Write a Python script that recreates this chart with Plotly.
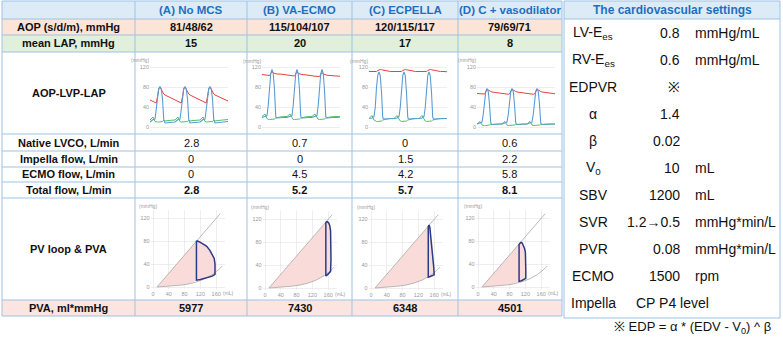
import plotly.graph_objects as go

W, H = 783, 337

# ---------------- data ----------------
col_titles = ["(A) No MCS", "(B) VA-ECMO", "(C) ECPELLA", "(D) C + vasodilator"]
row_labels = ["AOP (s/d/m), mmHg", "mean LAP, mmHg", "AOP-LVP-LAP", "Native LVCO, L/min",
              "Impella flow, L/min", "ECMO flow, L/min", "Total flow, L/min", "PV loop & PVA",
              "PVA, ml*mmHg"]
aop_values = ["81/48/62", "115/104/107", "120/115/117", "79/69/71"]
lap_values = ["15", "20", "17", "8"]
native_lvco = ["2.8", "0.7", "0", "0.6"]
impella_flow = ["0", "0", "1.5", "2.2"]
ecmo_flow = ["0", "4.5", "4.2", "5.8"]
total_flow = ["2.8", "5.2", "5.7", "8.1"]
pva_values = ["5977", "7430", "6348", "4501"]

settings_title = "The cardiovascular settings"
settings_labels = ["LV-E<sub>es</sub>", "RV-E<sub>es</sub>", "EDPVR", "α", "β", "V<sub>0</sub>",
                   "SBV", "SVR", "PVR", "ECMO", "Impella"]
settings_values = ["0.8", "0.6", "※", "1.4", "0.02", "10", "1200", "1.2→0.5", "0.08", "1500", ""]
settings_units = ["mmHg/mL", "mmHg/mL", "", "", "", "mL", "mL", "mmHg*min/L", "mmHg*min/L", "rpm", ""]
impella_setting = "CP P4 level"
footnote = "※ EDP = α * (EDV - V<sub>0</sub>) ^ β"

# pressure waveforms (time in beats, pressure mmHg)
time_beats = [0, 0.12, 0.2, 0.25, 0.3, 0.35, 0.4, 0.45, 0.5, 0.55, 0.6, 0.72, 0.86,
              1, 1.12, 1.2, 1.25, 1.3, 1.35, 1.4, 1.45, 1.5, 1.55, 1.6, 1.72, 1.86,
              2, 2.12, 2.2, 2.25, 2.3, 2.35, 2.4, 2.45, 2.5, 2.55, 2.6, 2.72, 2.86,
              3, 3.12]
lvp_A = [10, 15, 16, 35, 62, 77, 81, 76, 56, 15, 8, 9, 10,
         10, 15, 16, 35, 62, 77, 81, 76, 56, 15, 8, 9, 10,
         10, 15, 16, 35, 62, 77, 81, 76, 56, 15, 8, 9, 10,
         10, 11]
lap_A = [14, 20, 11, 10, 10, 10, 10, 10, 11, 14, 12, 13, 14,
         14, 20, 11, 10, 10, 10, 10, 10, 11, 14, 12, 13, 14,
         14, 20, 11, 10, 10, 10, 10, 10, 11, 14, 12, 13, 14,
         14, 15]
aop_A = [54, 51, 49, 48, 61, 76, 80, 75, 68, 66, 64, 61, 57,
         54, 51, 49, 48, 61, 76, 80, 75, 68, 66, 64, 61, 57,
         54, 51, 49, 48, 61, 76, 80, 75, 68, 66, 64, 61, 57,
         54, 52]
lvp_B = [20, 22, 24, 45, 85, 108, 116, 108, 75, 22, 19, 20, 20,
         20, 22, 24, 45, 85, 108, 116, 108, 75, 22, 19, 20, 20,
         20, 22, 24, 45, 85, 108, 116, 108, 75, 22, 19, 20, 20,
         20, 21]
lap_B = [22, 27, 18, 16, 16, 16, 16, 16, 17, 19, 20, 21, 22,
         22, 27, 18, 16, 16, 16, 16, 16, 17, 19, 20, 21, 22,
         22, 27, 18, 16, 16, 16, 16, 16, 17, 19, 20, 21, 22,
         22, 22]
aop_B = [106, 105, 104, 104, 104, 108, 112, 109, 108, 108, 107, 107, 106,
         104.5, 103.5, 103, 103, 103, 107, 111, 108, 107, 106.5, 106, 105.5, 105,
         103.5, 102.5, 102, 102, 102, 106, 110, 107, 106, 105, 104.5, 104, 103.5,
         103, 102.5]
lvp_C = [18, 19, 22, 40, 80, 104, 111, 104, 70, 20, 17, 17, 18,
         18, 19, 22, 40, 80, 104, 111, 104, 70, 20, 17, 17, 18,
         18, 19, 22, 40, 80, 104, 111, 104, 70, 20, 17, 17, 18,
         18, 18]
lap_C = [18, 24, 15, 13, 12, 12, 12, 12, 13, 15, 16, 17, 18,
         18, 24, 15, 13, 12, 12, 12, 12, 13, 15, 16, 17, 18,
         18, 24, 15, 13, 12, 12, 12, 12, 13, 15, 16, 17, 18,
         18, 18]
aop_C = [112, 111.5, 111, 111, 112, 114, 115.5, 116, 115.5, 115, 114, 113, 112,
         112, 111.5, 111, 111, 112, 114, 115.5, 116, 115.5, 115, 114, 113, 112,
         112, 111.5, 111, 111, 112, 114, 115.5, 116, 115.5, 115, 114, 113, 112,
         112, 111.5]
lvp_D = [6, 8, 10, 25, 52, 71, 77, 71, 45, 8, 5, 6, 6,
         6, 8, 10, 25, 52, 71, 77, 71, 45, 8, 5, 6, 6,
         6, 8, 10, 25, 52, 71, 77, 71, 45, 8, 5, 6, 6,
         6, 6]
lap_D = [6, 11, 4, 3, 3, 3, 3, 3, 4, 5, 5, 5.5, 6,
         6, 11, 4, 3, 3, 3, 3, 3, 4, 5, 5, 5.5, 6,
         6, 11, 4, 3, 3, 3, 3, 3, 4, 5, 5, 5.5, 6,
         6, 6]
aop_D = [67, 66, 65.5, 65.5, 66, 70, 75, 74, 72, 71, 70, 69, 68,
         67, 66, 65.5, 65.5, 66, 70, 75, 74, 72, 71, 70, 69, 68,
         67, 66, 65.5, 65.5, 66, 70, 75, 74, 72, 71, 70, 69, 68,
         67, 66.5]

# PV relations (volume mL, pressure mmHg)
espvr_v = [10, 170]
espvr_p = [0, 128]
edpvr_v = [10, 30, 50, 70, 90, 110, 130, 150, 165, 175]
edpvr_p = [0, 0.7, 1.7, 3.3, 5.4, 8.9, 14.0, 21.6, 29.7, 36.6]

# PV loops: start at end-systole, relaxation, filling, contraction, ejection
loop_v_A = [110, 110, 110, 120, 130, 140, 150, 157, 157, 157, 155, 150, 144, 136, 128, 120, 114, 110]
loop_p_A = [81, 45, 12, 13, 15, 17, 19, 22, 30, 40, 50, 57, 64, 71, 75, 78, 80, 81]
loop_v_B = [154, 154, 154, 158, 162, 166, 167, 167, 166, 164, 161, 157, 154]
loop_p_B = [115, 60, 21, 23, 26, 29, 50, 80, 100, 109, 114, 116, 115]
loop_v_C = [145, 145, 145, 150, 155, 160, 159, 157, 155, 153, 151, 149, 147, 145]
loop_p_C = [108, 60, 19, 20, 21, 23, 35, 50, 65, 80, 95, 106, 110, 108]
loop_v_D = [104, 104, 104, 110, 116, 121, 121, 121, 120, 118, 115, 112, 109, 106, 104]
loop_p_D = [75, 40, 10, 11, 13, 15, 30, 50, 60, 67, 73, 77, 78, 77, 75]

waves = [(aop_A, lvp_A, lap_A), (aop_B, lvp_B, lap_B), (aop_C, lvp_C, lap_C), (aop_D, lvp_D, lap_D)]
loops = [(loop_v_A, loop_p_A), (loop_v_B, loop_p_B), (loop_v_C, loop_p_C), (loop_v_D, loop_p_D)]

# ---------------- layout geometry (pixels) ----------------
def px(x):
    return x / W

def py(y):
    return 1 - y / H

FONT = "Arial, Liberation Sans, sans-serif"
BORDER = "#9DC3E6"
BLUE_TXT = "#1F6FC0"

col_x = [2, 135, 247, 352, 458, 562]
row_y = [1, 19, 35, 52, 134, 151, 167, 182, 198, 300, 316]
col_c = [(col_x[i] + col_x[i + 1]) / 2 for i in range(5)]
row_c = [(row_y[i] + row_y[i + 1]) / 2 for i in range(10)]

shapes = []
annotations = []

def rect(x0, y0, x1, y1, fill):
    shapes.append(dict(type="rect", xref="paper", yref="paper", x0=px(x0), x1=px(x1),
                       y0=py(y1), y1=py(y0), fillcolor=fill, line=dict(width=0), layer="below"))

def line(x0, y0, x1, y1, color=BORDER, w=1):
    shapes.append(dict(type="line", xref="paper", yref="paper", x0=px(x0), x1=px(x1),
                       y0=py(y0), y1=py(y1), line=dict(color=color, width=w), layer="below"))

def text(x, y, s, size=11, bold=False, color="#111", anchor="center"):
    if bold:
        s = "<b>" + s + "</b>"
    annotations.append(dict(xref="paper", yref="paper", x=px(x), y=py(y), text=s, showarrow=False,
                            xanchor=anchor, yanchor="middle",
                            font=dict(family=FONT, size=size, color=color)))

# row fills
rect(col_x[0], row_y[0], col_x[-1], row_y[1], "#DDEBF7")
rect(col_x[0], row_y[1], col_x[-1], row_y[2], "#FCE4D6")
rect(col_x[0], row_y[2], col_x[-1], row_y[3], "#E2EFDA")
rect(col_x[0], row_y[9], col_x[-1], row_y[10], "#FCE4E0")
for xv in col_x:
    line(xv, row_y[0], xv, row_y[-1])
for yv in row_y:
    line(col_x[0], yv, col_x[-1], yv)

# header
for i, t in enumerate(col_titles):
    text(col_c[i + 1], row_c[0], t, size=11.5, bold=True, color=BLUE_TXT)
# row labels
for j, lab in enumerate(row_labels):
    text(col_c[0], row_c[j + 1], lab, size=11, bold=True)
# values
for i in range(4):
    text(col_c[i + 1], row_c[1], aop_values[i], bold=True)
    text(col_c[i + 1], row_c[2], lap_values[i], bold=True)
    text(col_c[i + 1], row_c[4], native_lvco[i])
    text(col_c[i + 1], row_c[5], impella_flow[i])
    text(col_c[i + 1], row_c[6], ecmo_flow[i])
    text(col_c[i + 1], row_c[7], total_flow[i], bold=True)
    text(col_c[i + 1], row_c[9], pva_values[i], bold=True)

# settings panel
sp_x0, sp_x1, sp_y0, sp_y1 = 564, 780, 1, 318
rect(sp_x0, sp_y0, sp_x1, 19, "#DDEBF7")
shapes.append(dict(type="rect", xref="paper", yref="paper", x0=px(sp_x0), x1=px(sp_x1),
                   y0=py(sp_y1), y1=py(sp_y0), line=dict(color=BORDER, width=1), layer="below"))
line(sp_x0, 19, sp_x1, 19)
text(672, 10, settings_title, size=12, bold=True, color=BLUE_TXT)
for k in range(len(settings_labels)):
    yk = 33 + 27 * k
    text(593, yk, settings_labels[k], size=14, color="#111")
    if settings_values[k]:
        text(682, yk, settings_values[k], size=14, color="#111", anchor="right")
    if settings_units[k]:
        text(693, yk, settings_units[k], size=14, color="#111", anchor="left")
text(672, 303, impella_setting, size=14, color="#111")
text(692, 327, footnote, size=13, color="#111")

# ---------------- mini charts ----------------
fig = go.Figure()
layout_axes = {}
TICKF = dict(family=FONT, size=5.5, color="#9a9a9a")
GRID = "#e2e2e2"

# waveform charts: origin (x px at t=0, y px at 0 mmHg)
wave_origin = [(150, 127), (262, 127.5), (369, 127.5), (477, 127)]
wsx, wsy = 25.0, 0.5
t_rng, p_rng = [0, 3.12], [-3, 128]
# PV charts: origin (x px at 0 mL, y px at 0 mmHg)
pv_origin = [(153, 287), (265, 288), (371, 288), (478, 287)]
vsx, vsy = 0.395, 0.572
v_rng, pp_rng = [-6, 182], [-4, 135]

for i in range(4):
    n = i + 1
    xa = "x" if n == 1 else f"x{n}"
    ya = "y" if n == 1 else f"y{n}"
    ox, oy = wave_origin[i]
    layout_axes["xaxis" if n == 1 else f"xaxis{n}"] = dict(
        domain=[px(ox + t_rng[0] * wsx), px(ox + t_rng[1] * wsx)], range=t_rng, anchor=ya,
        showgrid=False, showticklabels=False, zeroline=False, showline=False, fixedrange=True)
    layout_axes["yaxis" if n == 1 else f"yaxis{n}"] = dict(
        domain=[py(oy - p_rng[0] * wsy), py(oy - p_rng[1] * wsy)], range=p_rng, anchor=xa,
        tickvals=[0, 40, 80, 120], showgrid=True, gridcolor=GRID, gridwidth=0.6, zeroline=False,
        showline=False, tickfont=TICKF, ticklen=0, fixedrange=True)
    aop, lvp, lap = waves[i]
    fig.add_trace(go.Scatter(x=time_beats, y=aop, mode="lines", line=dict(color="#E8413C", width=1),
                             xaxis=xa, yaxis=ya, hoverinfo="skip"))
    fig.add_trace(go.Scatter(x=time_beats, y=lap, mode="lines", line=dict(color="#4CC26A", width=1),
                             xaxis=xa, yaxis=ya, hoverinfo="skip"))
    fig.add_trace(go.Scatter(x=time_beats, y=lvp, mode="lines", line=dict(color="#5B9BD5", width=1.1),
                             xaxis=xa, yaxis=ya, hoverinfo="skip"))
    annotations.append(dict(xref="paper", yref="paper", x=px(ox - 10), y=py(oy - 134 * wsy),
                            text="(mmHg)", showarrow=False, xanchor="center", yanchor="middle",
                            font=dict(family=FONT, size=5, color="#9a9a9a")))

for i in range(4):
    n = i + 5
    xa, ya = f"x{n}", f"y{n}"
    ox, oy = pv_origin[i]
    layout_axes[f"xaxis{n}"] = dict(
        domain=[px(ox + v_rng[0] * vsx), px(ox + v_rng[1] * vsx)], range=v_rng, anchor=ya,
        tickvals=[0, 40, 80, 120, 160], showgrid=True, gridcolor=GRID, gridwidth=0.6,
        zeroline=False, showline=False, tickfont=TICKF, ticklen=0, fixedrange=True)
    layout_axes[f"yaxis{n}"] = dict(
        domain=[py(oy - pp_rng[0] * vsy), py(oy - pp_rng[1] * vsy)], range=pp_rng, anchor=xa,
        tickvals=[0, 40, 80, 120], showgrid=True, gridcolor=GRID, gridwidth=0.6, zeroline=False,
        showline=False, tickfont=TICKF, ticklen=0, fixedrange=True)
    lv, lp = loops[i]
    # PVA area: triangle under ESPVR to the loop, plus the loop interior
    tri_v = [espvr_v[0], lv[0], lv[2]] + [v for v in reversed(edpvr_v) if v < lv[2]]
    tri_p = [espvr_p[0], lp[0], lp[2]] + [p for v, p in zip(reversed(edpvr_v), reversed(edpvr_p)) if v < lv[2]]
    fig.add_trace(go.Scatter(x=tri_v, y=tri_p, mode="lines", fill="toself", fillcolor="#F9DCDA",
                             line=dict(width=0), xaxis=xa, yaxis=ya, hoverinfo="skip"))
    fig.add_trace(go.Scatter(x=lv, y=lp, mode="lines", fill="toself", fillcolor="#F9DCDA",
                             line=dict(width=0), xaxis=xa, yaxis=ya, hoverinfo="skip"))
    fig.add_trace(go.Scatter(x=espvr_v, y=espvr_p, mode="lines", line=dict(color="#a8a8a8", width=0.8),
                             xaxis=xa, yaxis=ya, hoverinfo="skip"))
    fig.add_trace(go.Scatter(x=edpvr_v, y=edpvr_p, mode="lines", line=dict(color="#a8a8a8", width=0.8),
                             xaxis=xa, yaxis=ya, hoverinfo="skip"))
    fig.add_trace(go.Scatter(x=lv, y=lp, mode="lines", line=dict(color="#2B3A87", width=1.5),
                             xaxis=xa, yaxis=ya, hoverinfo="skip"))
    annotations.append(dict(xref="paper", yref="paper", x=px(ox - 5), y=py(oy - 142 * vsy),
                            text="(mmHg)", showarrow=False, xanchor="center", yanchor="middle",
                            font=dict(family=FONT, size=5, color="#9a9a9a")))
    annotations.append(dict(xref="paper", yref="paper", x=px(ox + 190 * vsx), y=py(oy + 6),
                            text="(mL)", showarrow=False, xanchor="center", yanchor="middle",
                            font=dict(family=FONT, size=5, color="#9a9a9a")))

fig.update_layout(
    width=W, height=H, margin=dict(l=0, r=0, t=0, b=0),
    paper_bgcolor="white", plot_bgcolor="rgba(0,0,0,0)",
    showlegend=False, shapes=shapes, annotations=annotations,
    font=dict(family=FONT), **layout_axes)

fig.write_html("out.html", config=dict(displayModeBar=False, staticPlot=True))

# remove the default page margin so the figure sits at the window origin
with open("out.html", encoding="utf-8") as f:
    html = f.read()
html = html.replace("<head>", "<head><style>html,body{margin:0;padding:0;overflow:hidden;}</style>", 1)
with open("out.html", "w", encoding="utf-8") as f:
    f.write(html)
